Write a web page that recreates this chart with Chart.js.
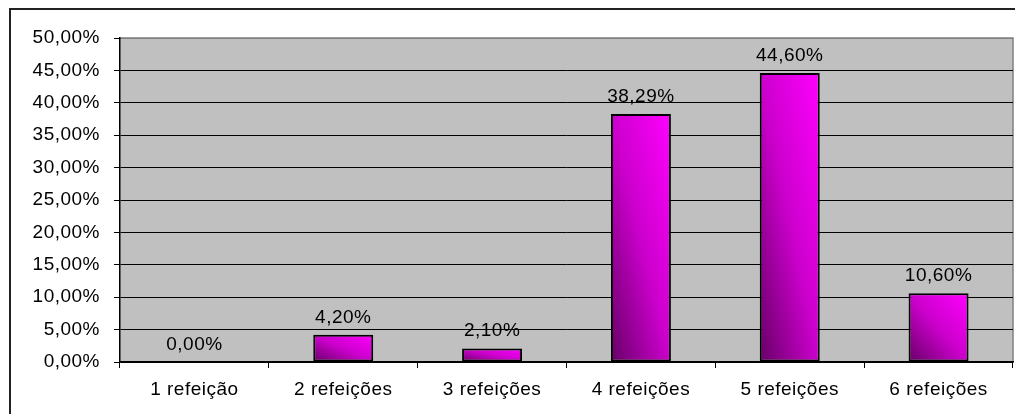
<!DOCTYPE html>
<html>
<head>
<meta charset="utf-8">
<script src="https://cdn.jsdelivr.net/npm/chart.js@4/dist/chart.umd.min.js"></script>
<style>
    html, body { margin: 0; padding: 0; background: #fff; overflow: hidden; }
    #frame { position: absolute; left: 9px; top: 8px; width: 1100px; height: 500px; border: 2px solid #222; }
    #chart { position: absolute; left: 0; top: 0; }
</style>
</head>
<body>
<div id="frame"></div>
<canvas id="chart" width="1015" height="414"></canvas>
<script>
// chart data
const categories = ['1 refeição', '2 refeições', '3 refeições', '4 refeições', '5 refeições', '6 refeições'];
const values = [0, 4.20, 2.10, 38.29, 44.60, 10.60];
const yMin = 0;
const yMax = 50;
const yStep = 5;

const FONT = { family: '"Liberation Sans", Arial, sans-serif', size: 19 };
const SPACING = '0.5px';
const BAR_PCT = 0.403;

function pct(v) {
    return v.toFixed(2).replace('.', ',') + '%';
}

// diagonal gradient in bar-normalised space, dark at bottom-left, bright at top-right
function barGradient(ctx) {
    const chart = ctx.chart;
    if (!chart.chartArea || !chart.scales.x || !chart.scales.y) return '#cc00cc';
    const xs = chart.scales.x, ys = chart.scales.y;
    const v = values[ctx.dataIndex];
    const cx = xs.getPixelForValue(ctx.dataIndex);
    const w = (xs.width / categories.length) * BAR_PCT;
    const x0 = cx - w / 2;
    const yb = ys.getPixelForValue(0);
    const h = yb - ys.getPixelForValue(v);
    if (!(h > 0)) return '#cc00cc';
    const L2 = w * w + h * h;
    const x1 = x0 + 2 * w * h * h / L2;
    const y1 = yb - 2 * w * w * h / L2;
    const g = chart.ctx.createLinearGradient(x0, yb, x1, y1);
    g.addColorStop(0, '#660066');
    g.addColorStop(0.5, '#cc00cc');
    g.addColorStop(1, '#ff00ff');
    return g;
}

const spacingPlugin = {
    id: 'spacing',
    beforeUpdate(chart) { chart.ctx.letterSpacing = SPACING; },
    beforeLayout(chart) { chart.ctx.letterSpacing = SPACING; },
    beforeDraw(chart) { chart.ctx.letterSpacing = SPACING; }
};

const plotBg = {
    id: 'plotBg',
    beforeDraw(chart) {
        const { ctx, chartArea: a } = chart;
        ctx.save();
        ctx.fillStyle = '#c0c0c0';
        ctx.fillRect(a.left, a.top, a.right - a.left, a.bottom - a.top);
        ctx.strokeStyle = '#808080';
        ctx.lineWidth = 1.5;
        ctx.beginPath();
        ctx.moveTo(a.left, a.top);
        ctx.lineTo(a.right, a.top);
        ctx.lineTo(a.right, a.bottom);
        ctx.stroke();
        ctx.restore();
    }
};

const valueLabels = {
    id: 'valueLabels',
    afterDatasetsDraw(chart) {
        const ctx = chart.ctx;
        const meta = chart.getDatasetMeta(0);
        ctx.save();
        ctx.letterSpacing = SPACING;
        ctx.font = FONT.size + 'px ' + FONT.family;
        ctx.fillStyle = '#000';
        ctx.textAlign = 'center';
        ctx.textBaseline = 'alphabetic';
        meta.data.forEach((bar, i) => {
            ctx.fillText(pct(values[i]), bar.x, bar.y - 12);
        });
        ctx.restore();
    }
};

const chart = new Chart(document.getElementById('chart'), {
    type: 'bar',
    data: {
        labels: categories,
        datasets: [{
            data: values,
            backgroundColor: barGradient,
            borderColor: '#000',
            borderWidth: ctx => (values[ctx.dataIndex] > 0 ? 2 : 0),
            borderSkipped: false,
            barPercentage: BAR_PCT,
            categoryPercentage: 1
        }]
    },
    options: {
        responsive: false,
        animation: false,
        devicePixelRatio: 1,
        layout: { padding: { top: 38, right: 2, left: 0, bottom: 0 } },
        plugins: {
            legend: { display: false },
            tooltip: { enabled: false },
            title: { display: false }
        },
        scales: {
            x: {
                grid: {
                    offset: true,
                    drawOnChartArea: false,
                    drawTicks: true,
                    tickLength: 6,
                    color: '#000'
                },
                border: { color: '#000', width: 1.5 },
                ticks: { color: '#000', font: FONT, padding: 10, maxRotation: 0 },
                afterFit(scale) { scale.height = 52; }
            },
            y: {
                min: yMin,
                max: yMax,
                grid: {
                    color: c => (c.tick && c.tick.value === yMax ? '#808080' : '#000'),
                    tickColor: '#000',
                    tickLength: 6,
                    lineWidth: 1
                },
                border: { color: '#000', width: 1.5 },
                ticks: {
                    stepSize: yStep,
                    color: '#000',
                    font: FONT,
                    padding: 14,
                    callback: v => pct(v)
                },
                afterFit(scale) { scale.width = 120; }
            }
        }
    },
    plugins: [spacingPlugin, plotBg, valueLabels]
});
// second pass so the gradients see the laid-out scales
chart.update();
</script>
</body>
</html>
